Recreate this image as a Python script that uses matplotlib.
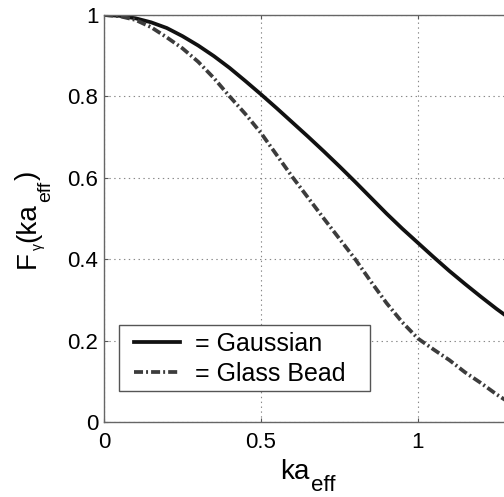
import numpy as np
import matplotlib
matplotlib.use("Agg")
import matplotlib.pyplot as plt
from matplotlib.patches import Rectangle
from matplotlib.transforms import IdentityTransform

plt.rcParams['font.family'] = ['Liberation Sans', 'DejaVu Sans']
plt.rcParams['lines.scale_dashes'] = False

# --- data ---
ka_eff = [0.0, 0.05, 0.1, 0.15, 0.2, 0.25, 0.3, 0.35, 0.4, 0.45, 0.5, 0.55, 0.6, 0.65,
          0.7, 0.75, 0.8, 0.85, 0.9, 0.95, 1.0, 1.05, 1.1, 1.15, 1.2, 1.25, 1.3]
gaussian = [1.0, 0.998, 0.992, 0.982, 0.968, 0.948, 0.925, 0.899, 0.870, 0.838, 0.805,
            0.771, 0.736, 0.701, 0.665, 0.628, 0.590, 0.551, 0.512, 0.475, 0.440,
            0.405, 0.371, 0.339, 0.308, 0.278, 0.250]
glass_bead = [1.0, 0.997, 0.988, 0.970, 0.945, 0.918, 0.885, 0.845, 0.800, 0.757, 0.710,
              0.656, 0.602, 0.551, 0.500, 0.450, 0.400, 0.345, 0.292, 0.245, 0.205,
              0.178, 0.152, 0.122, 0.096, 0.068, 0.043]

x_ticks = [0, 0.5, 1]
y_ticks = [0, 0.2, 0.4, 0.6, 0.8, 1]
x_ticklabels = ['0', '0.5', '1']
y_ticklabels = ['0', '0.2', '0.4', '0.6', '0.8', '1']

# label pieces: (text, fontsize, subscript drop in px)
xlabel_parts = [('ka', 20, 0), ('eff', 16, 12)]
ylabel_parts = [('F', 20, 0), ('γ', 10, 7), ('(ka', 20, 0), ('eff', 14, 15), (')', 20, 0)]

W, H = 504, 497
fig = plt.figure(figsize=(W / 100, H / 100), dpi=100)
# axes runs off the right edge of the picture, like the cropped original
ax = fig.add_axes([104 / W, 75 / H, 1.3 * 314 / W, 407 / H])

ax.plot(ka_eff, gaussian, color='#111111', lw=2.7, label='= Gaussian')
ax.plot(ka_eff, glass_bead, color='#3c3c3c', lw=2.7, dashes=(6.5, 2.2, 1.4, 2.2),
        label='= Glass Bead')

ax.set_xlim(0, 1.3)
ax.set_ylim(0, 1)
ax.set_xticks(x_ticks)
ax.set_xticklabels(x_ticklabels)
ax.set_yticks(y_ticks)
ax.set_yticklabels(y_ticklabels)
ax.tick_params(direction='in', length=3, width=0.8, color='#555555',
               labelsize=16, top=True, right=True)
ax.tick_params(axis='x', pad=7)
ax.tick_params(axis='y', pad=4)
ax.grid(True, linestyle=(0, (1, 2.5)), color='#888888', lw=0.8)
for s in ax.spines.values():
    s.set_color('#666666')
    s.set_linewidth(1.0)

# legend without its own frame; box drawn as a rectangle
leg = ax.legend(loc='lower left', bbox_to_anchor=(134 / W, 111 / H),
                bbox_transform=fig.transFigure, borderaxespad=0, borderpad=0,
                fontsize=18, handlelength=1.84, handletextpad=0.6,
                labelspacing=0.24, frameon=False)
box = Rectangle((119 / W, (H - 391) / H), (370 - 119) / W, (391 - 325) / H,
                transform=fig.transFigure, facecolor='white', edgecolor='#555555',
                lw=1.0, zorder=4.5)
ax.add_patch(box)


def composite_label(parts, center, base, vertical):
    # lay text pieces one after another, subscripts dropped below the baseline
    r = fig.canvas.get_renderer()
    widths = []
    for s, size, drop in parts:
        t = fig.text(0, 0, s, fontsize=size)
        widths.append(t.get_window_extent(r).width)
        t.remove()
    pos = center - (sum(widths) + len(parts) - 1) / 2
    for (s, size, drop), w in zip(parts, widths):
        if vertical:
            fig.text(base + drop, pos, s, fontsize=size, rotation=90,
                     rotation_mode='anchor', ha='left', va='baseline',
                     transform=IdentityTransform())
        else:
            fig.text(pos, base - drop, s, fontsize=size, ha='left', va='baseline',
                     transform=IdentityTransform())
        pos += w + 1


composite_label(xlabel_parts, 308, H - 479, vertical=False)
composite_label(ylabel_parts, H - 219, 35, vertical=True)

fig.savefig('out.png', dpi=100)
